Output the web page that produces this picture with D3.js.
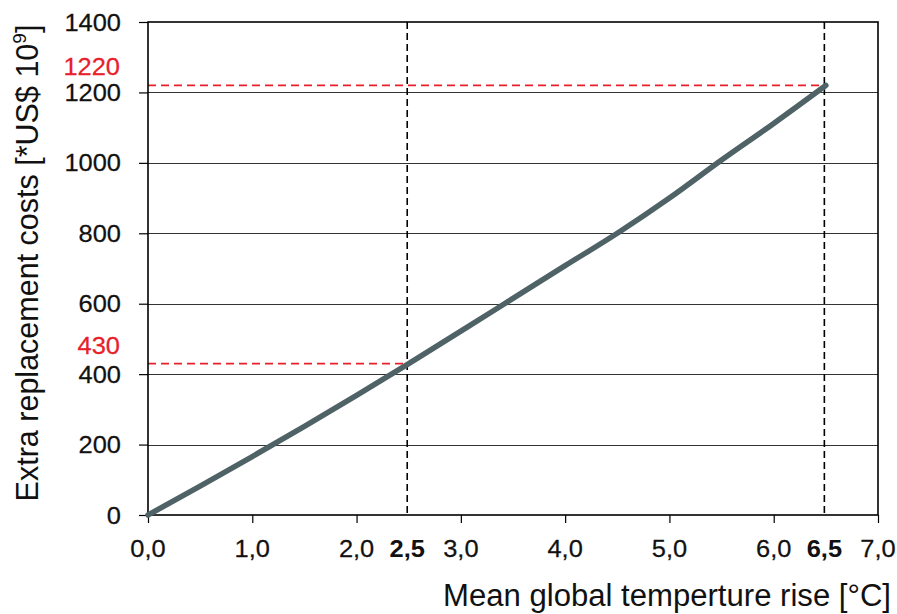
<!DOCTYPE html>
<html>
<head>
<meta charset="utf-8">
<script src="https://cdn.jsdelivr.net/npm/d3@7"></script>
<style>
  html, body { margin: 0; padding: 0; background: #ffffff; }
  svg { display: block; font-family: "Liberation Sans", Arial, sans-serif; }
</style>
</head>
<body>
<svg id="chart" width="897" height="614"></svg>
<script>
// ---- data ----
const temps = [0, 0.5, 1.0, 1.5, 2.0, 2.5, 3.0, 3.5, 4.0, 4.5, 5.0, 5.5, 6.0, 6.5];
const costs = [0, 82, 166, 252, 340, 430, 522, 615, 708, 800, 900, 1008, 1112, 1220];
const xTicks = [0, 1, 2, 3, 4, 5, 6, 7];
const xTickLabels = ["0,0", "1,0", "2,0", "3,0", "4,0", "5,0", "6,0", "7,0"];
const yTicks = [0, 200, 400, 600, 800, 1000, 1200, 1400];
const markX = [2.5, 6.5];
const markXLabels = ["2,5", "6,5"];
const markY = [430, 1220];
const markYLabels = ["430", "1220"];
const xTitle = "Mean global temperture rise [°C]";
const yTitleMain = "Extra replacement costs [*US$ 10";
const yTitleSup = "9";
const yTitleEnd = "]";

// ---- layout ----
const L = 148, R = 878, T = 22, B = 515;
const svg = d3.select("#chart");
const x = d3.scaleLinear().domain([0, 7]).range([L, R]);
const y = d3.scaleLinear().domain([0, 1400]).range([B, T]);
const SX = 1.06; // horizontal glyph stretch of the reference

// gridlines
svg.append("g").selectAll("line").data(yTicks.slice(1, -1)).join("line")
  .attr("x1", L).attr("x2", R)
  .attr("y1", d => Math.round(y(d)) + 0.5).attr("y2", d => Math.round(y(d)) + 0.5)
  .attr("stroke", "#333").attr("stroke-width", 1);

// axes (tick marks)
const yAxis = svg.append("g").attr("transform", `translate(${L},0)`)
  .call(d3.axisLeft(y).tickValues(yTicks).tickSize(9).tickFormat(""));
const xAxis = svg.append("g").attr("transform", `translate(0,${B})`)
  .call(d3.axisBottom(x).tickValues(xTicks).tickSize(8).tickFormat(""));
[yAxis, xAxis].forEach(a => {
  a.select(".domain").remove();
  a.selectAll("line").attr("stroke", "#000").attr("stroke-width", 1.2);
});

// red dashed horizontal markers
svg.append("g").selectAll("line").data(markY).join("line")
  .attr("x1", L).attr("x2", (d, i) => x(markX[i]))
  .attr("y1", d => y(d)).attr("y2", d => y(d))
  .attr("stroke", "#e8202a").attr("stroke-width", 1.6)
  .attr("stroke-dasharray", "8,5");

// black dashed vertical markers
svg.append("g").selectAll("line").data(markX).join("line")
  .attr("x1", d => x(d) - 1.5).attr("x2", d => x(d) - 1.5)
  .attr("y1", T).attr("y2", B)
  .attr("stroke", "#000").attr("stroke-width", 1.6)
  .attr("stroke-dasharray", "7,4");

// frame
svg.append("rect").attr("x", L).attr("y", T).attr("width", R - L).attr("height", B - T)
  .attr("fill", "none").attr("stroke", "#000").attr("stroke-width", 1.6);

// curve
const line = d3.line().x(d => x(d[0])).y(d => y(d[1])).curve(d3.curveMonotoneX);
svg.append("path").datum(temps.map((t, i) => [t, costs[i]]))
  .attr("d", line).attr("fill", "none")
  .attr("stroke", "#4f6266").attr("stroke-width", 5.5)
  .attr("stroke-linecap", "round").attr("stroke-linejoin", "round");

// helper for stretched text
function stext(g, px, py, txt, anchor, opts = {}) {
  return g.append("text")
    .attr("transform", `translate(${px},${py}) scale(${SX},1)`)
    .attr("text-anchor", anchor)
    .attr("font-size", opts.size || 24)
    .attr("fill", opts.fill || "#111")
    .attr("stroke", opts.weight ? "none" : (opts.fill || "#111"))
    .attr("stroke-width", 0.25)
    .attr("font-weight", opts.weight || "normal")
    .text(txt);
}

const labels = svg.append("g");
// y tick labels
yTicks.forEach(v => stext(labels, 121, y(v) + 8.5, String(v), "end"));
// x tick labels
xTicks.forEach((v, i) => stext(labels, x(v), 557, xTickLabels[i], "middle"));
// bold marker labels
markX.forEach((v, i) => stext(labels, x(v) - 1.5, 557, markXLabels[i], "middle", { weight: "bold" }));
// red value labels
markY.forEach((v, i) => stext(labels, 120, y(v) - 10, markYLabels[i], "end", { fill: "#e8202a" }));

// x title
svg.append("text").attr("x", 891).attr("y", 606).attr("text-anchor", "end")
  .attr("font-size", 31).attr("fill", "#111")
  .attr("textLength", 448).attr("lengthAdjust", "spacingAndGlyphs")
  .text(xTitle);

// y title
const yt = svg.append("text")
  .attr("transform", `translate(38,263) rotate(-90)`)
  .attr("text-anchor", "middle").attr("font-size", 30.5).attr("fill", "#111");
yt.append("tspan").text(yTitleMain);
yt.append("tspan").attr("font-size", 19).attr("dy", -12).text(yTitleSup);
yt.append("tspan").attr("dy", 12).text(yTitleEnd);
</script>
</body>
</html>
